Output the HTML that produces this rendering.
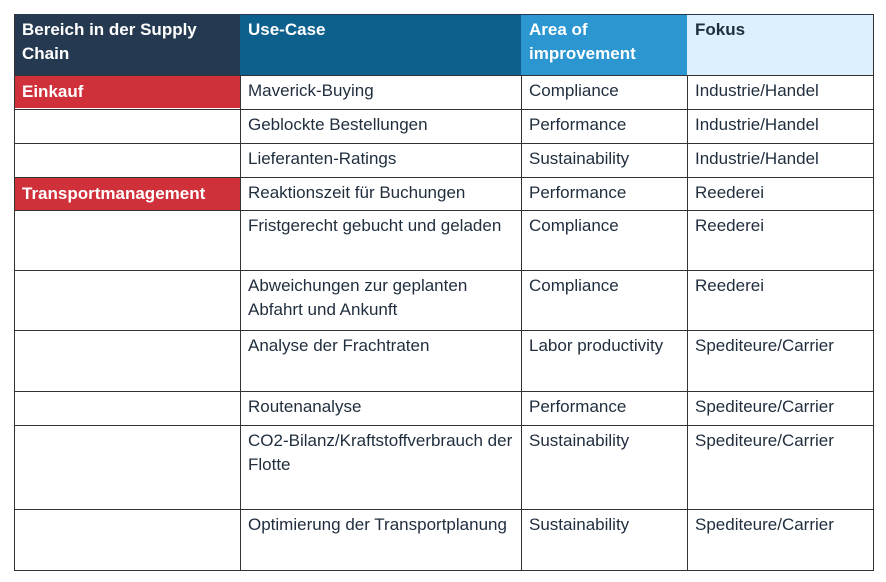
<!DOCTYPE html>
<html><head><meta charset="utf-8"><style>
body{margin:0;background:#fff;width:886px;height:582px;overflow:hidden;font-family:"Liberation Sans",sans-serif;}
.c{position:absolute;box-sizing:border-box;padding:4px 8px;font-size:17px;line-height:24px;color:#1f2d3d;}
.h{font-weight:bold;color:#fff;}
.r{font-weight:bold;color:#fff;background:#d0303a;}
.hl{position:absolute;left:14px;width:860px;height:1px;background:#333;}
.vl{position:absolute;top:14px;height:556px;width:1px;background:#333;}
</style></head><body>
<div id="t"></div>
<script>
const cols=[14,240,521,687,874];
const rows=[14,75,109,143,177,210,270,330,391,425,509,570];
const data=[
["Einkauf","Maverick-Buying","Compliance","Industrie/Handel"],
["","Geblockte Bestellungen","Performance","Industrie/Handel"],
["","Lieferanten-Ratings","Sustainability","Industrie/Handel"],
["Transportmanagement","Reaktionszeit für Buchungen","Performance","Reederei"],
["","Fristgerecht gebucht und geladen","Compliance","Reederei"],
["","Abweichungen zur geplanten Abfahrt und Ankunft","Compliance","Reederei"],
["","Analyse der Frachtraten","Labor productivity","Spediteure/Carrier"],
["","Routenanalyse","Performance","Spediteure/Carrier"],
["","CO2-Bilanz/Kraftstoffverbrauch der Flotte","Sustainability","Spediteure/Carrier"],
["","Optimierung der Transportplanung","Sustainability","Spediteure/Carrier"]];
const heads=["Bereich in der Supply Chain","Use-Case","Area of improvement","Fokus"];
const hbg=["#253a50","#0d5f8c","#2b96d0","#dcf1fb"];
const tbl=document.getElementById('t');
function cell(x,y,w,h,txt,cls,bg,color,name){
  const d=document.createElement('div');
  d.className='c '+cls;
  d.style.left=x+'px';d.style.top=y+'px';d.style.width=w+'px';d.style.height=h+'px';
  if(bg)d.style.background=bg;
  if(color)d.style.color=color;
  d.textContent=txt;
  
  
  tbl.appendChild(d);
}
heads.forEach((h,i)=>cell(cols[i],rows[0],cols[i+1]-cols[i],rows[1]-rows[0],h,'h',hbg[i],i==3?'#1f2d3d':null,'header-cell'));
data.forEach((r,ri)=>{
  r.forEach((v,ci)=>{
    const y=rows[ri+1];
    if(ci==0&&v){cell(cols[0],y+1,cols[1]-cols[0],32,v,'r',null,null,'category-cell');}
    else cell(cols[ci],y,cols[ci+1]-cols[ci],rows[ri+2]-y,v,'',null,null,'table-cell');
  });
});
rows.slice(1).forEach(y=>{const l=document.createElement('div');l.className='hl';l.style.top=y+'px';


tbl.appendChild(l);});
const topBorder=document.createElement('div');topBorder.className='hl';topBorder.style.top='14px';topBorder.style.background='#253a50';


tbl.appendChild(topBorder);
cols.forEach((x,i)=>{const l=document.createElement('div');l.className='vl';l.style.left=(i==4?x-1:x)+'px';
if(i>0&&i<4){l.style.top='75px';l.style.height='495px';}


tbl.appendChild(l);});
</script>
</body></html>
